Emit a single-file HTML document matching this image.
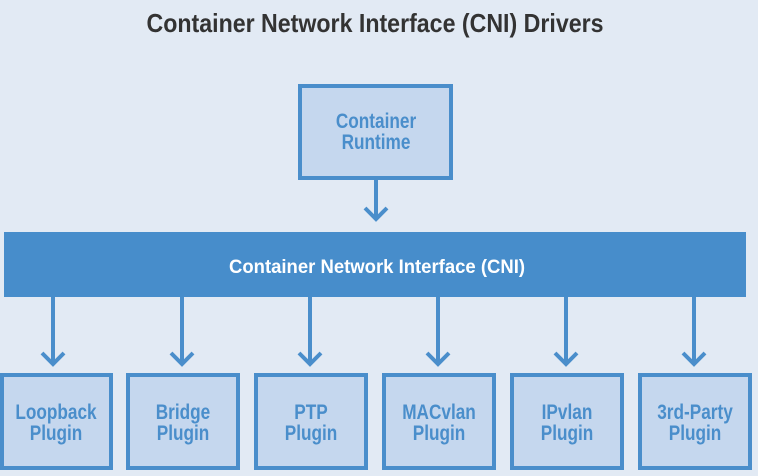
<!DOCTYPE html>
<html><head><meta charset="utf-8"><style>
html,body{margin:0;padding:0;background:#e2eaf4;}
svg{display:block}
text{font-family:"Liberation Sans Narrow","Liberation Sans",sans-serif;font-weight:bold;}
</style></head><body>
<svg width="758" height="476" viewBox="0 0 758 476" xmlns="http://www.w3.org/2000/svg">
<rect width="758" height="476" fill="#e2eaf4"/>
<text x="375" y="32" text-anchor="middle" font-size="26" fill="#333" textLength="457" lengthAdjust="spacingAndGlyphs">Container Network Interface (CNI) Drivers</text>
<g fill="#c5d7ee" stroke="#4a8ecb" stroke-width="4">
<rect x="300" y="86" width="151" height="92"/>
<rect x="2" y="375" width="109" height="93"/>
<rect x="128" y="375" width="110" height="93"/>
<rect x="256" y="375" width="110" height="93"/>
<rect x="384" y="375" width="110" height="93"/>
<rect x="512" y="375" width="110" height="93"/>
<rect x="640" y="375" width="110" height="93"/>
</g>
<rect x="4" y="232" width="742" height="65" fill="#478dcb"/>
<g stroke="#4a8ecb" stroke-width="4" fill="none">
<path d="M376 180V220M365 208L376 219L387 208"/>
<path d="M53 297V365M42 353L53 364L64 353"/>
<path d="M182 297V365M171 353L182 364L193 353"/>
<path d="M310 297V365M299 353L310 364L321 353"/>
<path d="M438 297V365M427 353L438 364L449 353"/>
<path d="M566 297V365M555 353L566 364L577 353"/>
<path d="M694 297V365M683 353L694 364L705 353"/>
</g>
<text x="377" y="273" text-anchor="middle" font-size="19" fill="#fff" textLength="296" lengthAdjust="spacingAndGlyphs">Container Network Interface (CNI)</text>
<g font-size="21" fill="#4a8ecb" text-anchor="middle">
<g transform="translate(376,0) scale(0.82,1)"><text x="0" y="128">Container</text><text x="0" y="149">Runtime</text></g>
<g transform="translate(56,0) scale(0.82,1)"><text x="0" y="419">Loopback</text><text x="0" y="440">Plugin</text></g>
<g transform="translate(183,0) scale(0.82,1)"><text x="0" y="419">Bridge</text><text x="0" y="440">Plugin</text></g>
<g transform="translate(311,0) scale(0.82,1)"><text x="0" y="419">PTP</text><text x="0" y="440">Plugin</text></g>
<g transform="translate(439,0) scale(0.82,1)"><text x="0" y="419">MACvlan</text><text x="0" y="440">Plugin</text></g>
<g transform="translate(567,0) scale(0.82,1)"><text x="0" y="419">IPvlan</text><text x="0" y="440">Plugin</text></g>
<g transform="translate(695,0) scale(0.82,1)"><text x="0" y="419">3rd-Party</text><text x="0" y="440">Plugin</text></g>
</g>
</svg>
</body></html>
